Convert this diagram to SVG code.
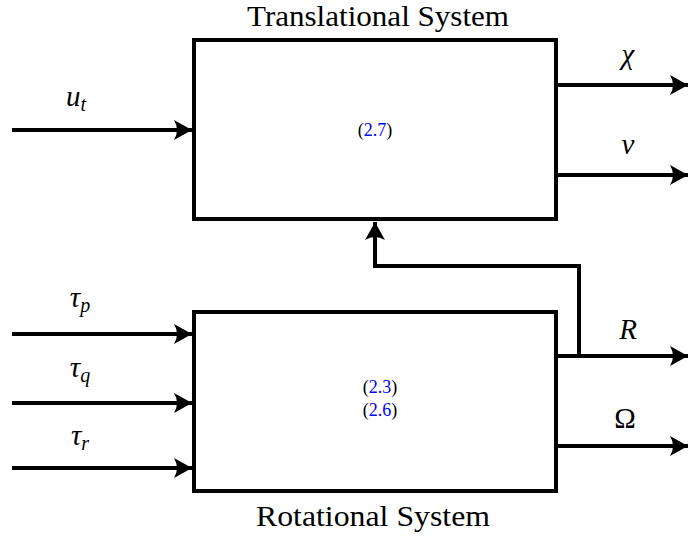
<svg xmlns="http://www.w3.org/2000/svg" width="688" height="539" viewBox="0 0 688 539">
<style>
.box{fill:#fff;stroke:#000;stroke-width:4}
.ln{fill:none;stroke:#000;stroke-width:4}
.t{font-family:"Liberation Serif","DejaVu Serif",serif;fill:#000}
.title{font-size:29px;text-anchor:middle}
.m{font-size:29px;font-style:italic;text-anchor:middle}
.up{font-size:29px;text-anchor:middle}
.sub{font-size:20px;font-style:italic}
.ref{font-size:18px;text-anchor:middle}
.blue{fill:#0000ff}
</style>
<defs>
<marker id="ah" viewBox="0 0 20 20" refX="18" refY="10" markerWidth="20" markerHeight="20" markerUnits="userSpaceOnUse" orient="auto">
<path d="M18,10 L0,0 Q6,10 0,20 Z" fill="#000"/>
</marker>
</defs>
<g id="translational">
<rect class="box" x="194" y="40" width="362" height="179"/>
<text class="t title" x="378" y="26" textLength="262" lengthAdjust="spacingAndGlyphs">Translational System</text>
<text class="t ref" x="375" y="136">(<tspan class="blue">2.7</tspan>)</text>
</g>
<g id="rotational">
<rect class="box" x="194" y="312" width="362" height="179"/>
<text class="t title" x="373" y="526" textLength="234" lengthAdjust="spacingAndGlyphs">Rotational System</text>
<text class="t ref" x="380" y="393">(<tspan class="blue">2.3</tspan>)</text>
<text class="t ref" x="380" y="416">(<tspan class="blue">2.6</tspan>)</text>
</g>
<g id="connectors">
<line class="ln" x1="12" y1="130" x2="192" y2="130" marker-end="url(#ah)"/>
<line class="ln" x1="556" y1="85" x2="688" y2="85" marker-end="url(#ah)"/>
<line class="ln" x1="556" y1="175" x2="688" y2="175" marker-end="url(#ah)"/>
<line class="ln" x1="12" y1="334" x2="192" y2="334" marker-end="url(#ah)"/>
<line class="ln" x1="12" y1="403" x2="192" y2="403" marker-end="url(#ah)"/>
<line class="ln" x1="12" y1="468" x2="192" y2="468" marker-end="url(#ah)"/>
<line class="ln" x1="556" y1="356" x2="688" y2="356" marker-end="url(#ah)"/>
<line class="ln" x1="556" y1="446" x2="688" y2="446" marker-end="url(#ah)"/>
<polyline class="ln" points="579,356 579,266 375,266 375,222" marker-end="url(#ah)"/>
</g>
<g id="labels">
<text class="t m" x="76" y="106">u<tspan class="sub" dy="5">t</tspan></text>
<text class="t m" x="628" y="64">χ</text>
<text class="t m" x="628" y="154">v</text>
<text class="t m" x="80" y="307">τ<tspan class="sub" dy="5">p</tspan></text>
<text class="t m" x="80" y="377">τ<tspan class="sub" dy="5">q</tspan></text>
<text class="t m" x="80" y="445">τ<tspan class="sub" dy="5">r</tspan></text>
<text class="t m" x="628" y="339">R</text>
<text class="t up" x="625" y="428">Ω</text>
</g>
</svg>
